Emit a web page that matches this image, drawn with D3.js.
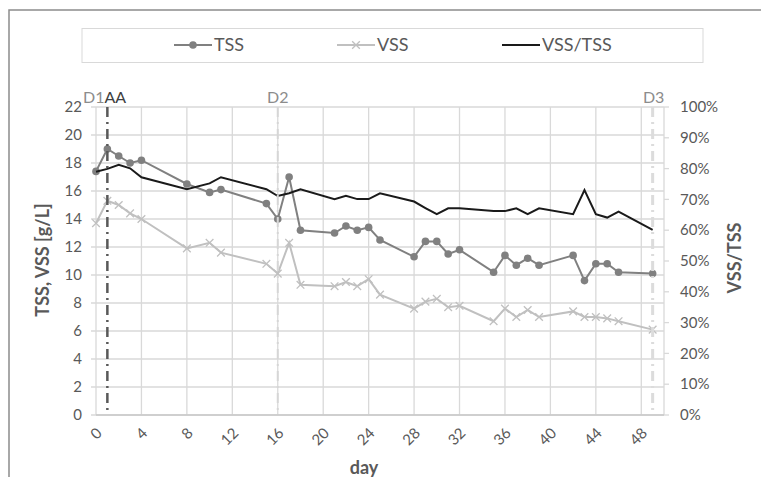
<!DOCTYPE html>
<html>
<head>
<meta charset="utf-8">
<script src="https://cdn.jsdelivr.net/npm/d3@7"></script>
<style>
  body { margin: 0; background: #fff; }
  text { font-family: Lato, "Open Sans", sans-serif; }
</style>
</head>
<body>
<svg id="chart" width="761" height="477"></svg>
<script>
// sampling days
var days = [0, 1, 2, 3, 4, 8, 10, 11, 15, 16, 17, 18, 21, 22, 23, 24, 25,
            28, 29, 30, 31, 32, 35, 36, 37, 38, 39, 42, 43, 44, 45, 46, 49];
// g/L
var tss = [17.4, 19.0, 18.5, 18.0, 18.2, 16.5, 15.9, 16.1, 15.1, 14.0, 17.0, 13.2,
           13.0, 13.5, 13.2, 13.4, 12.5, 11.3, 12.4, 12.4, 11.5, 11.8, 10.2, 11.4,
           10.7, 11.2, 10.7, 11.4, 9.6, 10.8, 10.8, 10.2, 10.1];
var vss = [13.7, 15.3, 15.0, 14.4, 14.0, 11.9, 12.3, 11.6, 10.8, 10.1, 12.3, 9.3,
           9.2, 9.5, 9.2, 9.7, 8.6, 7.6, 8.1, 8.3, 7.7, 7.8, 6.7, 7.6,
           7.0, 7.5, 7.0, 7.4, 7.0, 7.0, 6.9, 6.7, 6.1];
// percent
var ratio = [79.0, 79.9, 81.2, 80.1, 77.2, 73.3, 75.2, 77.2, 73.3, 71.1, 72.0, 73.3,
             70.1, 71.2, 70.1, 70.1, 72.0, 69.3, 67.2, 65.2, 67.1, 67.1, 66.2, 66.2,
             67.1, 65.2, 67.1, 65.2, 73.0, 65.2, 64.1, 66.0, 60.1];
var xTicks = [0, 4, 8, 12, 16, 20, 24, 28, 32, 36, 40, 44, 48];
var leftTicks = [0, 2, 4, 6, 8, 10, 12, 14, 16, 18, 20, 22];
var rightTicks = [0, 10, 20, 30, 40, 50, 60, 70, 80, 90, 100];
var events = [{day: 1, name: "D1"}, {day: 16, name: "D2"}, {day: 49, name: "D3"}];

var svg = d3.select("#chart");
var pL = 96, pR = 664, pT = 107, pB = 415;

var x = d3.scaleLinear().domain([0, 50]).range([pL, pR]);
var y = d3.scaleLinear().domain([0, 22]).range([pB, pT]);
var y2 = d3.scaleLinear().domain([0, 100]).range([pB, pT]);

var textCol = "#595959";

// outer frame
svg.append("rect").attr("x", 9).attr("y", 10).attr("width", 800).attr("height", 500)
  .attr("fill", "none").attr("stroke", "#8c8c8c").attr("stroke-width", 1.5);

// gridlines
svg.append("g").selectAll("line").data(leftTicks).enter().append("line")
  .attr("x1", pL - 5).attr("x2", pR)
  .attr("y1", d => y(d)).attr("y2", d => y(d))
  .attr("stroke", "#d9d9d9").attr("stroke-width", 1.3);
svg.append("g").selectAll("line").data(xTicks).enter().append("line")
  .attr("x1", d => x(d)).attr("x2", d => x(d))
  .attr("y1", pT).attr("y2", pB)
  .attr("stroke", "#d9d9d9").attr("stroke-width", 1.3);
// right border of plot + ticks
svg.append("line").attr("x1", pR).attr("x2", pR).attr("y1", pT).attr("y2", pB)
  .attr("stroke", "#d9d9d9").attr("stroke-width", 1.3);
svg.append("g").selectAll("line").data(rightTicks).enter().append("line")
  .attr("x1", pR).attr("x2", pR + 5)
  .attr("y1", d => y2(d)).attr("y2", d => y2(d))
  .attr("stroke", "#d9d9d9").attr("stroke-width", 1.3);
svg.append("line").attr("x1", pL).attr("x2", pR).attr("y1", pB).attr("y2", pB)
  .attr("stroke", "#c8c8c8").attr("stroke-width", 1.5);

// tick labels
svg.append("g").selectAll("text").data(leftTicks).enter().append("text")
  .attr("x", 82).attr("y", d => y(d)).attr("dy", "0.35em")
  .attr("text-anchor", "end").attr("font-size", 15).attr("fill", textCol)
  .text(d => d);
svg.append("g").selectAll("text").data(rightTicks).enter().append("text")
  .attr("x", 680).attr("y", d => y2(d)).attr("dy", "0.35em")
  .attr("font-size", 15).attr("fill", textCol)
  .text(d => d + "%");
svg.append("g").selectAll("text").data(xTicks).enter().append("text")
  .attr("transform", d => "translate(" + (x(d) + 7) + ",434) rotate(-45)")
  .attr("text-anchor", "end").attr("font-size", 15).attr("fill", textCol)
  .text(d => d);

// axis titles
svg.append("text").attr("transform", "translate(49,260) rotate(-90)")
  .attr("text-anchor", "middle").attr("font-size", 18).attr("font-weight", "bold")
  .attr("fill", textCol).text("TSS, VSS [g/L]");
svg.append("text").attr("transform", "translate(741,258) rotate(-90)")
  .attr("text-anchor", "middle").attr("font-size", 18).attr("font-weight", "bold")
  .attr("fill", textCol).text("VSS/TSS");
svg.append("text").attr("x", 364).attr("y", 474)
  .attr("text-anchor", "middle").attr("font-size", 18).attr("font-weight", "bold")
  .attr("fill", textCol).text("day");

// series
var tssCol = "#808080", vssCol = "#c0c0c0", ratioCol = "#1a1a1a";
var lineT = d3.line().x((d, i) => x(days[i])).y(d => y(d));
var lineR = d3.line().x((d, i) => x(days[i])).y(d => y2(d));

svg.append("path").datum(vss).attr("d", lineT).attr("fill", "none")
  .attr("stroke", vssCol).attr("stroke-width", 2);
svg.append("g").selectAll("path").data(vss).enter().append("path")
  .attr("d", d3.symbol(d3.symbolX, 40))
  .attr("transform", (d, i) => "translate(" + x(days[i]) + "," + y(d) + ")")
  .attr("fill", "none").attr("stroke", vssCol).attr("stroke-width", 1.3);

svg.append("path").datum(tss).attr("d", lineT).attr("fill", "none")
  .attr("stroke", tssCol).attr("stroke-width", 2);
svg.append("g").selectAll("circle").data(tss).enter().append("circle")
  .attr("cx", (d, i) => x(days[i])).attr("cy", d => y(d)).attr("r", 3.8)
  .attr("fill", tssCol);

svg.append("path").datum(ratio).attr("d", lineR).attr("fill", "none")
  .attr("stroke", ratioCol).attr("stroke-width", 2);

// event lines (drawn over the series)
var evStyle = [
  {col: "#595959", w: 2.5},
  {col: "#d6d6d6", w: 2},
  {col: "#dcdcdc", w: 3}
];
svg.append("g").selectAll("line").data(events).enter().append("line")
  .attr("x1", d => x(d.day)).attr("x2", d => x(d.day))
  .attr("y1", pT).attr("y2", pB)
  .attr("stroke", (d, i) => evStyle[i].col)
  .attr("stroke-width", (d, i) => evStyle[i].w)
  .attr("stroke-dasharray", "10,5,2,5");

svg.append("text").attr("x", 83).attr("y", 103).attr("font-size", 16).attr("fill", "#8c8c8c")
  .text("D1").append("tspan").attr("fill", "#404040").text("AA");
svg.append("text").attr("x", x(16)).attr("y", 103).attr("text-anchor", "middle")
  .attr("font-size", 16).attr("fill", "#8c8c8c").text("D2");
svg.append("text").attr("x", x(49) + 1).attr("y", 103).attr("text-anchor", "middle")
  .attr("font-size", 16).attr("fill", "#8c8c8c").text("D3");

// legend
svg.append("rect").attr("x", 82).attr("y", 28.5).attr("width", 621).attr("height", 34)
  .attr("fill", "#fff").attr("stroke", "#d9d9d9").attr("stroke-width", 1);
var legend = [
  {name: "TSS", x0: 174, col: tssCol, mark: "circle"},
  {name: "VSS", x0: 337, col: vssCol, mark: "x"},
  {name: "VSS/TSS", x0: 502, col: ratioCol, mark: null}
];
var lg = svg.append("g").selectAll("g").data(legend).enter().append("g")
  .attr("transform", d => "translate(" + d.x0 + ",45)");
lg.append("line").attr("x1", 0).attr("x2", 38).attr("stroke", d => d.col).attr("stroke-width", 2);
lg.filter(d => d.mark === "circle").append("circle").attr("cx", 19).attr("r", 3.8).attr("fill", d => d.col);
lg.filter(d => d.mark === "x").append("path").attr("d", d3.symbol(d3.symbolX, 40))
  .attr("transform", "translate(19,0)").attr("fill", "none").attr("stroke", d => d.col).attr("stroke-width", 1.3);
lg.append("text").attr("x", 40).attr("dy", "0.35em").attr("font-size", 18)
  .attr("fill", textCol).text(d => d.name);
</script>
</body>
</html>
